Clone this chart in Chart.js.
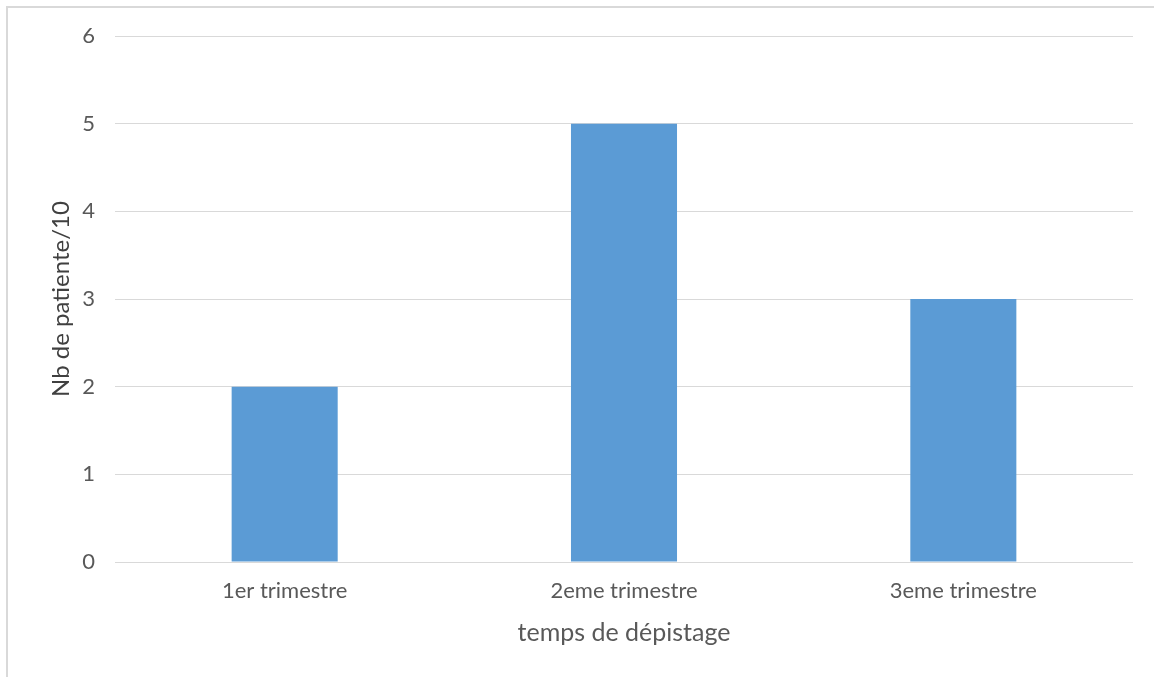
<!DOCTYPE html>
<html>
<head>
<meta charset="utf-8">
<style>
  html, body { margin: 0; padding: 0; background: #ffffff; }
  #wrap { position: relative; width: 1154px; height: 677px; }
  canvas { display: block; }
</style>
<script src="https://cdn.jsdelivr.net/npm/chart.js@4/dist/chart.umd.min.js"></script>
</head>
<body>
<div id="wrap"><canvas id="chart" width="1154" height="677"></canvas></div>
<script>
// Patients screened per trimester
const categories = ['1er trimestre', '2eme trimestre', '3eme trimestre'];
const patientCounts = [2, 5, 3];
const yTicks = [0, 1, 2, 3, 4, 5, 6];

const FONT = 'Lato, "Open Sans", sans-serif';

// Thin frame along the top and left edges of the figure
const framePlugin = {
  id: 'frame',
  beforeDraw(chart) {
    const ctx = chart.ctx;
    ctx.save();
    ctx.fillStyle = '#ffffff';
    ctx.fillRect(0, 0, chart.width, chart.height);
    ctx.strokeStyle = '#d9d9d9';
    ctx.lineWidth = 2;
    ctx.beginPath();
    ctx.moveTo(7, chart.height);
    ctx.lineTo(7, 7);
    ctx.lineTo(chart.width, 7);
    ctx.stroke();
    ctx.restore();
  }
};

new Chart(document.getElementById('chart'), {
  type: 'bar',
  data: {
    labels: categories,
    datasets: [{
      label: 'Nb de patiente/10',
      data: patientCounts,
      backgroundColor: '#5b9bd5',
      borderWidth: 0,
      barPercentage: 1,
      categoryPercentage: 0.3125
    }]
  },
  options: {
    responsive: false,
    animation: false,
    devicePixelRatio: 1,
    layout: { padding: { left: 47, right: 21, top: 36, bottom: 0 } },
    plugins: {
      legend: { display: false },
      tooltip: { enabled: false }
    },
    scales: {
      x: {
        grid: { display: false, drawTicks: false },
        border: { display: false },
        ticks: { color: '#595959', font: { family: FONT, size: 22 }, padding: 16 },
        title: {
          display: true,
          text: 'temps de dépistage',
          color: '#595959',
          font: { family: FONT, size: 25 },
          padding: { top: 0, bottom: 29 }
        },
        afterFit(scale) { scale.height = 115; }
      },
      y: {
        min: 0,
        max: 6,
        afterBuildTicks(scale) { scale.ticks = yTicks.map(v => ({ value: v })); },
        grid: { color: '#d9d9d9', lineWidth: 1, drawTicks: false },
        border: { display: false },
        ticks: { color: '#595959', font: { family: FONT, size: 22 }, padding: 20 },
        title: {
          display: true,
          text: 'Nb de patiente/10',
          color: '#404040',
          font: { family: FONT, size: 24 },
          padding: { top: 0, bottom: 0 }
        },
        afterFit(scale) { scale.width = 68; }
      }
    }
  },
  plugins: [framePlugin]
});
</script>
</body>
</html>
